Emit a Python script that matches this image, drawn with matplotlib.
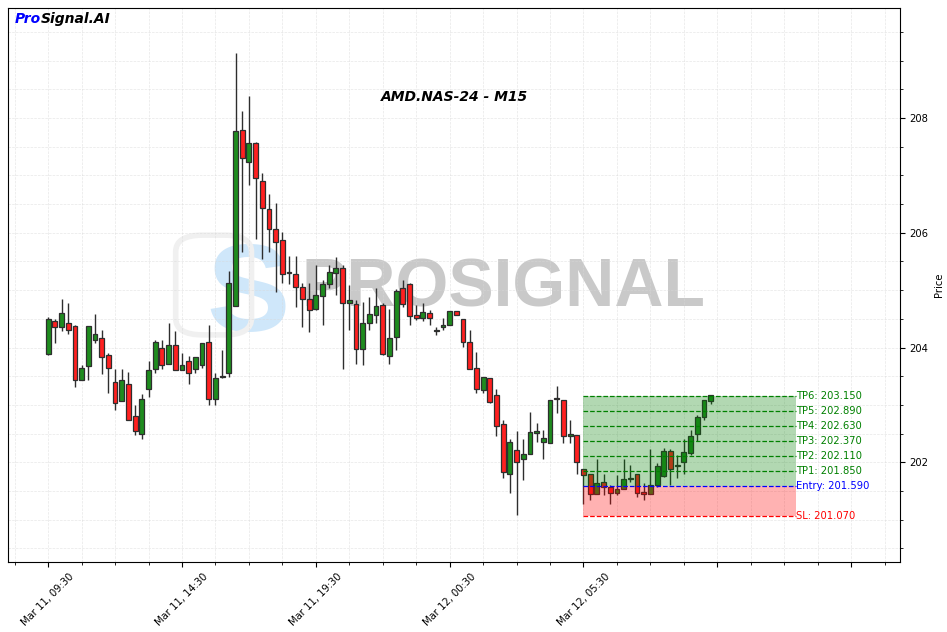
import matplotlib
matplotlib.use("Agg")
import matplotlib.pyplot as plt
from datetime import datetime, timedelta
from matplotlib.ticker import MultipleLocator, FuncFormatter
from matplotlib.patches import FancyBboxPatch

# ---------------- data ----------------
chart_title = "AMD.NAS-24 - M15"
start_time = datetime(2024, 3, 11, 9, 30)
bar_minutes = 15

opens = [203.88, 204.47, 204.35, 204.42, 204.37, 203.43, 203.68, 204.13, 204.16, 203.87,
         203.39, 203.06, 203.36, 202.81, 202.50, 203.27, 203.63, 204.00, 203.72, 204.04,
         203.60, 203.77, 203.62, 203.70, 204.09, 203.11, 203.48, 203.55, 204.72, 207.79,
         207.23, 207.56, 206.90, 206.41, 206.06, 205.87, 205.31, 205.29, 205.05, 204.84,
         204.67, 204.90, 205.10, 205.30, 205.38, 204.77, 204.75, 203.97, 204.42, 204.56,
         204.74, 203.85, 204.18, 205.03, 205.10, 204.56, 204.51, 204.61, 204.29, 204.35,
         204.39, 204.64, 204.49, 204.09, 203.65, 203.26, 203.46, 203.17, 202.66, 201.79,
         202.22, 202.05, 202.15, 202.51, 202.35, 202.34, 203.12, 203.09, 202.45, 202.47,
         201.89, 201.79, 201.45, 201.66, 201.56, 201.47, 201.53, 201.70, 201.79, 201.48,
         201.45, 201.61, 201.76, 202.19, 201.94, 202.00, 202.16, 202.50, 202.79, 203.07]
highs = [204.53, 204.49, 204.84, 204.77, 204.39, 203.69, 204.37, 204.58, 204.31, 203.90,
         203.63, 203.62, 203.58, 202.99, 203.19, 203.76, 204.13, 204.13, 204.42, 204.29,
         203.91, 203.86, 203.83, 204.07, 204.40, 203.56, 203.95, 205.33, 209.13, 208.12,
         208.38, 207.59, 207.05, 206.67, 206.52, 206.02, 205.59, 205.59, 205.12, 205.12,
         205.44, 205.17, 205.44, 205.57, 205.44, 205.09, 204.83, 204.80, 204.88, 205.04,
         204.77, 204.68, 205.02, 205.17, 205.13, 204.74, 204.77, 204.65, 204.35, 204.52,
         204.64, 204.64, 204.49, 204.31, 203.92, 203.49, 203.46, 203.27, 202.74, 202.41,
         202.54, 202.40, 202.87, 202.69, 202.56, 203.09, 203.33, 203.09, 202.74, 202.47,
         201.89, 201.79, 202.06, 201.79, 201.60, 201.77, 202.05, 201.95, 201.79, 201.63,
         202.23, 201.99, 202.24, 202.23, 202.12, 202.40, 202.56, 202.83, 203.08, 203.17]
lows = [203.87, 204.07, 204.29, 204.24, 203.31, 203.43, 203.44, 204.07, 203.53, 203.20,
        202.91, 203.06, 202.74, 202.48, 202.40, 203.13, 203.56, 203.62, 203.72, 203.60,
        203.60, 203.37, 203.55, 203.65, 202.99, 202.99, 203.46, 203.49, 204.72, 205.66,
        206.83, 205.90, 205.55, 205.67, 204.97, 205.12, 205.10, 204.71, 204.36, 204.27,
        204.66, 204.39, 205.03, 204.91, 203.62, 204.30, 203.72, 203.69, 204.31, 204.42,
        203.87, 203.72, 203.95, 204.71, 204.39, 204.48, 204.46, 204.39, 204.22, 204.30,
        204.39, 204.56, 204.01, 203.63, 203.20, 203.20, 203.03, 202.45, 201.73, 201.47,
        201.08, 201.69, 202.15, 202.35, 202.06, 202.34, 202.85, 202.33, 202.33, 201.79,
        201.28, 201.34, 201.45, 201.42, 201.28, 201.42, 201.53, 201.66, 201.39, 201.34,
        201.45, 201.57, 201.74, 201.60, 201.72, 201.79, 202.12, 202.37, 202.73, 203.02]
closes = [204.49, 204.35, 204.61, 204.30, 203.43, 203.65, 204.37, 204.23, 203.83, 203.65,
          203.04, 203.44, 202.74, 202.55, 203.11, 203.60, 204.09, 203.69, 204.04, 203.60,
          203.70, 203.55, 203.83, 204.07, 203.11, 203.46, 203.50, 205.12, 207.77, 207.30,
          207.56, 206.95, 206.44, 206.06, 205.84, 205.29, 205.30, 205.06, 204.84, 204.66,
          204.91, 205.10, 205.31, 205.38, 204.77, 204.83, 203.97, 204.42, 204.58, 204.73,
          203.88, 204.16, 204.98, 204.75, 204.55, 204.51, 204.62, 204.51, 204.29, 204.40,
          204.64, 204.56, 204.10, 203.63, 203.27, 203.49, 203.05, 202.63, 201.83, 202.35,
          202.00, 202.15, 202.52, 202.54, 202.43, 203.09, 203.10, 202.45, 202.49, 202.00,
          201.77, 201.45, 201.63, 201.57, 201.47, 201.53, 201.70, 201.73, 201.47, 201.44,
          201.61, 201.93, 202.19, 201.89, 201.95, 202.17, 202.45, 202.79, 203.08, 203.17]

entry_bar = 80
zone_end_bar = 111.8
entry_price = 201.59
sl_price = 201.07
tp_names = ["TP1", "TP2", "TP3", "TP4", "TP5", "TP6"]
tp_prices = [201.85, 202.11, 202.37, 202.63, 202.89, 203.15]

# ---------------- figure ----------------
fig = plt.figure(figsize=(9.47, 6.32), dpi=100)
fig.patch.set_facecolor("white")
ax = fig.add_axes([8 / 947, 70 / 632, 892 / 947, 554 / 632])

n = len(opens)
idx = list(range(n))

# watermark
ax.text(0.269, 0.475, "S", transform=ax.transAxes, fontsize=90, fontweight="bold",
        family="Liberation Sans", color="#cfe7fa", ha="center", va="center", zorder=0)
ax.add_patch(FancyBboxPatch((0.198, 0.42), 0.065, 0.16, boxstyle="round,pad=0.01,rounding_size=0.03",
                            transform=ax.transAxes, fill=False, edgecolor="#f0f0f0",
                            linewidth=4, zorder=0))
ax.text(0.555, 0.494, "PROSIGNAL", transform=ax.transAxes, fontsize=49, fontweight="bold",
        family="Liberation Sans", color="#c9c9c9", ha="center", va="center", zorder=0)

# candles
green_c = "#1e8c1e"
red_c = "#ff2020"
edge_c = "#2e2e2e"
ax.vlines(idx, lows, highs, color=edge_c, linewidth=1.0, zorder=2)
bottoms = [min(o, c) for o, c in zip(opens, closes)]
heights = [max(abs(c - o), 0.012) for o, c in zip(opens, closes)]
colors = [green_c if c >= o else red_c for o, c in zip(opens, closes)]
ax.bar(idx, heights, bottom=bottoms, width=0.72, color=colors, edgecolor=edge_c,
       linewidth=0.9, zorder=3)

# trade zones
ax.fill_between([entry_bar, zone_end_bar], entry_price, max(tp_prices), color="green",
                alpha=0.3, linewidth=0, zorder=5)
ax.fill_between([entry_bar, zone_end_bar], sl_price, entry_price, color="red",
                alpha=0.3, linewidth=0, zorder=5)
for name, p in zip(tp_names, tp_prices):
    ax.hlines(p, entry_bar, zone_end_bar, colors="green", linestyles="--", linewidth=0.9, zorder=6)
    ax.text(zone_end_bar, p, f"{name}: {p:.3f}", color="green", fontsize=7.2,
            va="center", ha="left", zorder=7)
ax.hlines(entry_price, entry_bar, zone_end_bar, colors="blue", linestyles="--", linewidth=0.9, zorder=6)
ax.text(zone_end_bar, entry_price, f"Entry: {entry_price:.3f}", color="blue", fontsize=7.2,
        va="center", ha="left", zorder=7)
ax.hlines(sl_price, entry_bar, zone_end_bar, colors="red", linestyles="--", linewidth=0.9, zorder=6)
ax.text(zone_end_bar, sl_price, f"SL: {sl_price:.3f}", color="red", fontsize=7.2,
        va="center", ha="left", zorder=7)

# axes setup
ax.set_xlim(-6, 127.3)
ax.set_ylim(200.26, 209.92)
ax.xaxis.set_major_locator(MultipleLocator(20))
ax.xaxis.set_minor_locator(MultipleLocator(5))
ax.yaxis.set_major_locator(MultipleLocator(2))
ax.yaxis.set_minor_locator(MultipleLocator(0.5))


def fmt_time(v, pos):
    i = int(round(v))
    if 0 <= i < n:
        return (start_time + timedelta(minutes=bar_minutes * i)).strftime("%b %d, %H:%M")
    return ""


ax.xaxis.set_major_formatter(FuncFormatter(fmt_time))
for lbl in ax.get_xticklabels():
    pass
ax.tick_params(axis="x", which="major", labelsize=7.2, labelrotation=45)
ax.yaxis.tick_right()
ax.yaxis.set_label_position("right")
ax.tick_params(axis="y", which="both", left=False, right=True, labelsize=7.2)
ax.set_ylabel("Price", fontsize=7.2)
ax.grid(True, which="both", linestyle="--", color="#d8d8d8", linewidth=0.5, alpha=0.6, zorder=0)
ax.set_axisbelow(True)

ax.text(0.5, 0.839, chart_title, transform=ax.transAxes, fontsize=10, fontweight="bold",
        fontstyle="italic", ha="center", va="center", zorder=8)
t1 = ax.text(0.008, 0.968, "Pro", transform=ax.transAxes, fontsize=10, fontweight="bold",
             fontstyle="italic", color="blue", ha="left", va="bottom", zorder=8)
ax.annotate("Signal.AI", xy=(1, 0), xycoords=t1, fontsize=10, fontweight="bold",
            fontstyle="italic", color="black", ha="left", va="bottom", zorder=8)

fig.savefig("out.png", dpi=100, facecolor="white")
